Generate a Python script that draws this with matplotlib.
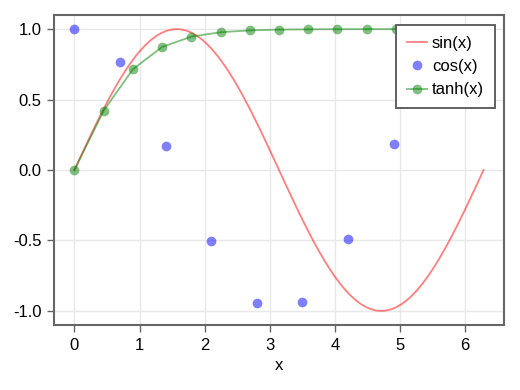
import matplotlib
matplotlib.use("Agg")
import matplotlib.pyplot as plt

plt.rcParams['font.family'] = ['Liberation Sans', 'DejaVu Sans']

sin_x = [0.0, 0.0785, 0.1571, 0.2356, 0.3142, 0.3927, 0.4712, 0.5498, 0.6283, 0.7069,
         0.7854, 0.8639, 0.9425, 1.021, 1.0996, 1.1781, 1.2566, 1.3352, 1.4137, 1.4923,
         1.5708, 1.6493, 1.7279, 1.8064, 1.885, 1.9635, 2.042, 2.1206, 2.1991, 2.2777,
         2.3562, 2.4347, 2.5133, 2.5918, 2.6704, 2.7489, 2.8274, 2.906, 2.9845, 3.0631,
         3.1416, 3.2201, 3.2987, 3.3772, 3.4558, 3.5343, 3.6128, 3.6914, 3.7699, 3.8485,
         3.927, 4.0055, 4.0841, 4.1626, 4.2412, 4.3197, 4.3982, 4.4768, 4.5553, 4.6339,
         4.7124, 4.7909, 4.8695, 4.948, 5.0265, 5.1051, 5.1836, 5.2622, 5.3407, 5.4193,
         5.4978, 5.5763, 5.6549, 5.7334, 5.8119, 5.8905, 5.969, 6.0476, 6.1261, 6.2046, 6.2832]
sin_y = [0.0, 0.0785, 0.1564, 0.2334, 0.309, 0.3827, 0.454, 0.5225, 0.5878, 0.6494,
         0.7071, 0.7604, 0.809, 0.8526, 0.891, 0.9239, 0.9511, 0.9724, 0.9877, 0.9969,
         1.0, 0.9969, 0.9877, 0.9724, 0.9511, 0.9239, 0.891, 0.8526, 0.809, 0.7604,
         0.7071, 0.6494, 0.5878, 0.5225, 0.454, 0.3827, 0.309, 0.2334, 0.1564, 0.0785,
         0.0, -0.0785, -0.1564, -0.2334, -0.309, -0.3827, -0.454, -0.5225, -0.5878, -0.6494,
         -0.7071, -0.7604, -0.809, -0.8526, -0.891, -0.9239, -0.9511, -0.9724, -0.9877, -0.9969,
         -1.0, -0.9969, -0.9877, -0.9724, -0.9511, -0.9239, -0.891, -0.8526, -0.809, -0.7604,
         -0.7071, -0.6494, -0.5878, -0.5225, -0.454, -0.3827, -0.309, -0.2334, -0.1564, -0.0785, 0.0]

cos_x = [0.0, 0.7, 1.4, 2.1, 2.8, 3.5, 4.2, 4.9, 5.6, 6.3]
cos_y = [1.0, 0.7648, 0.17, -0.5048, -0.9422, -0.9365, -0.4903, 0.1865, 0.7756, 0.9998]

tanh_x = [0.0, 0.4488, 0.8976, 1.3464, 1.7952, 2.244, 2.6928, 3.1416, 3.5904, 4.0392,
          4.488, 4.9368, 5.3856, 5.8344, 6.2832]
tanh_y = [0.0, 0.4211, 0.7151, 0.8733, 0.9462, 0.9777, 0.9909, 0.9963, 0.9985, 0.9994,
          0.9997, 0.9999, 1.0, 1.0, 1.0]

xticks = [0, 1, 2, 3, 4, 5, 6]
yticks = [-1.0, -0.5, 0.0, 0.5, 1.0]
ytick_labels = ['-1.0', '-0.5', '0.0', '0.5', '1.0']

fig = plt.figure(figsize=(5.2, 3.9), dpi=100)
ax = fig.add_axes([54/520, 65/390, 450/520, 310/390])

ax.plot(sin_x, sin_y, color='red', alpha=0.5, lw=1.3, label='sin(x)', zorder=3)
ax.plot(cos_x, cos_y, 'o', color='blue', alpha=0.5, ms=7, mec='none', label='cos(x)', zorder=3)
ax.plot(tanh_x, tanh_y, '-o', color='green', alpha=0.5, lw=1.3, ms=7, mec='none',
        label='tanh(x)', zorder=3)

ax.set_xlim(-0.314, 6.597)
ax.set_ylim(-1.1, 1.1)
ax.set_xticks(xticks)
ax.set_yticks(yticks)
ax.set_yticklabels(ytick_labels)
ax.grid(True, color='#e8e8e8', lw=1)
ax.set_axisbelow(True)
for s in ax.spines.values():
    s.set_color('#666666')
    s.set_linewidth(1.5)
ax.tick_params(direction='out', length=5, width=1, color='#666666', labelsize=12, pad=4)
ax.set_xlabel('x', fontsize=12, labelpad=4)

leg = ax.legend(loc='upper right', bbox_to_anchor=(0.98, 0.968),
                fontsize=12, frameon=True,
                fancybox=False, edgecolor='#555555', framealpha=1, handlelength=1.2,
                handletextpad=0.3, borderpad=0.65, labelspacing=0.5, borderaxespad=0)
leg.get_frame().set_linewidth(1.3)

fig.savefig('out.png', dpi=100)
